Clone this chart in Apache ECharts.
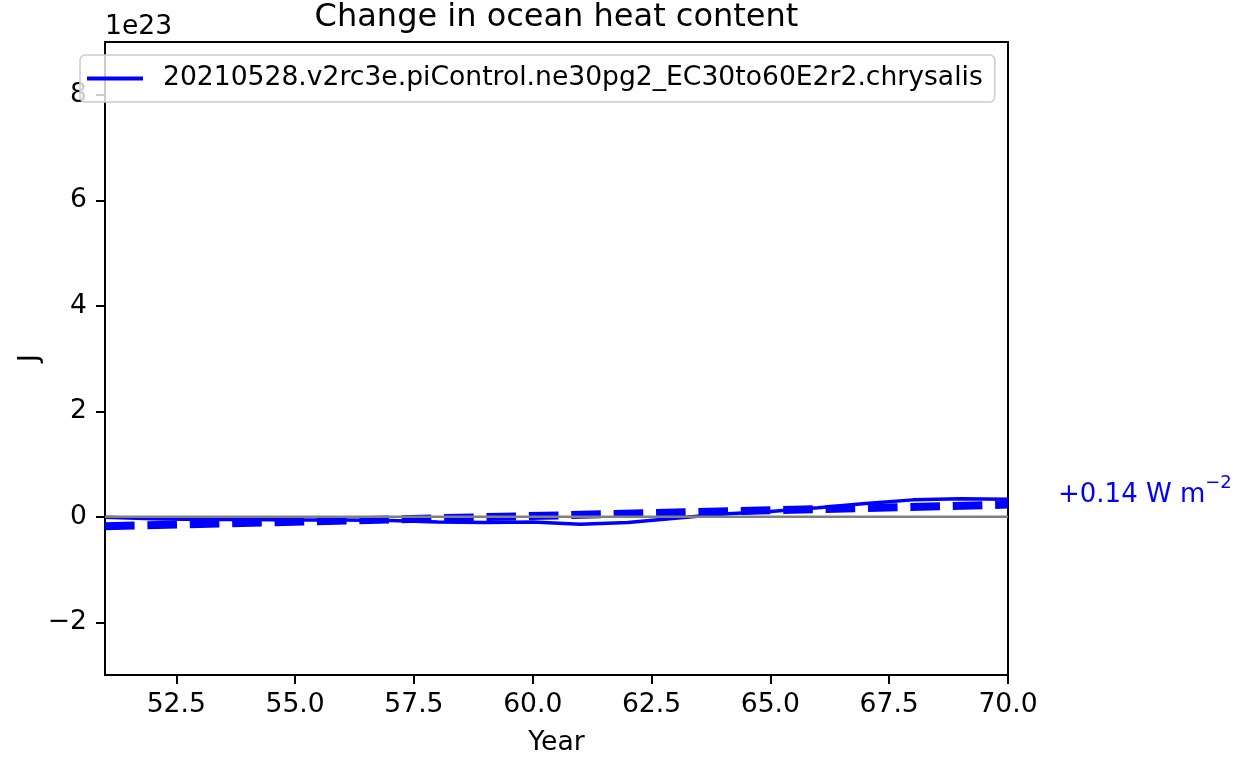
<!DOCTYPE html>
<html>
<head>
<meta charset="utf-8">
<script src="https://cdn.jsdelivr.net/npm/echarts@6/dist/echarts.min.js"></script>
<style>
html,body{margin:0;padding:0;background:#fff;}
#chart{width:1243px;height:758px;}
</style>
</head>
<body>
<div id="chart"></div>
<script>
// Data (values in units of 1e23 J)
const years = [51,52,53,54,55,56,57,58,59,60,61,62,63,64,65,66,67,68,69,70];
const ohc = [-0.01,-0.04,-0.05,-0.05,-0.06,-0.06,-0.07,-0.10,-0.11,-0.10,-0.14,-0.11,-0.03,0.05,0.10,0.17,0.25,0.32,0.34,0.33];
const trendYears = [51, 70];
const trendValues = [-0.18, 0.23];
const zeroYears = [51, 70];
const zeroValues = [0, 0];
const xTicks = [52.5,55,57.5,60,62.5,65,67.5,70];
const yTicks = [-2,0,2,4,6,8];
const seriesName = '20210528.v2rc3e.piControl.ne30pg2_EC30to60E2r2.chrysalis';
const titleText = 'Change in ocean heat content';
const annotation = '+0.14 W m';

const FONT = 'DejaVu Sans';
const FS = 26.6;
const chart = echarts.init(document.getElementById('chart'), null, {renderer:'canvas'});

const pairs = (xs, ys) => xs.map((x,i)=>[x, ys[i]]);
const minusFmt = v => (v < 0 ? '\u2212' + Math.abs(v) : String(v));

const option = {
  animation: false,
  backgroundColor: '#fff',
  grid: {left:105, top:42, width:903, height:633, show:true, borderColor:'#000', borderWidth:2, backgroundColor:'transparent'},
  xAxis: {
    type:'value', min:51, max:70,
    axisLine:{show:true, onZero:false, lineStyle:{color:'#000', width:2}},
    axisTick:{show:true, length:9, lineStyle:{color:'#000', width:2}, customValues:xTicks},
    axisLabel:{customValues:xTicks, formatter:v=>v.toFixed(1), fontFamily:FONT, fontSize:FS, color:'#000', margin:17},
    splitLine:{show:false}
  },
  yAxis: {
    type:'value', min:-3, max:9,
    axisLine:{show:true, onZero:false, lineStyle:{color:'#000', width:2}},
    axisTick:{show:true, length:9, lineStyle:{color:'#000', width:2}, customValues:yTicks},
    axisLabel:{customValues:yTicks, formatter:minusFmt, fontFamily:FONT, fontSize:FS, color:'#000', margin:18},
    splitLine:{show:false}
  },
  legend: {
    left:80, top:55,
    data:[{name:seriesName, icon:'rect'}],
    itemWidth:56, itemHeight:4,
    padding:[10,12,10,7],
    backgroundColor:'rgba(255,255,255,0.8)',
    borderColor:'#cccccc', borderWidth:1.5, borderRadius:5,
    textStyle:{fontFamily:FONT, fontSize:FS, color:'#000', padding:[0,0,0,15]}
  },
  series: [
    {
      name: seriesName, type:'line', data: pairs(years, ohc),
      symbol:'none', showSymbol:false, smooth:false,
      lineStyle:{color:'#0000ff', width:3.5}, itemStyle:{color:'#0000ff'}, z:3
    },
    {
      name:'trend', type:'line', data: pairs(trendYears, trendValues),
      symbol:'none', showSymbol:false,
      lineStyle:{color:'#0000ff', width:8, type:[29.6,12.8], cap:'butt'}, itemStyle:{color:'#0000ff'}, z:2
    },
    {
      name:'zero', type:'line', data: pairs(zeroYears, zeroValues),
      symbol:'none', showSymbol:false,
      lineStyle:{color:'#808080', width:2.7}, itemStyle:{color:'#808080'}, z:4
    }
  ],
  graphic: [
    {type:'text', x:556.5, y:18, style:{text:titleText, font:'32px "DejaVu Sans"', fill:'#000', align:'center', verticalAlign:'middle'}},
    {type:'text', x:105, y:27, style:{text:'1e23', font:FS+'px "DejaVu Sans"', fill:'#000', align:'left', verticalAlign:'middle'}},
    {type:'text', x:556.5, y:743, style:{text:'Year', font:FS+'px "DejaVu Sans"', fill:'#000', align:'center', verticalAlign:'middle'}},
    {type:'text', x:30, y:358, rotation:Math.PI/2, style:{text:'J', font:FS+'px "DejaVu Sans"', fill:'#000', align:'center', verticalAlign:'middle'}},
    {type:'text', x:1058, y:491, style:{
      text:'{a|' + annotation + '}{s|\u22122}',
      align:'left', verticalAlign:'middle', fill:'#0000ff',
      rich:{
        a:{fontFamily:FONT, fontSize:26, fill:'#0000ff', lineHeight:34, verticalAlign:'bottom'},
        s:{fontFamily:FONT, fontSize:18, fill:'#0000ff', lineHeight:34, verticalAlign:'top'}
      }
    }}
  ]
};
chart.setOption(option);
</script>
</body>
</html>
